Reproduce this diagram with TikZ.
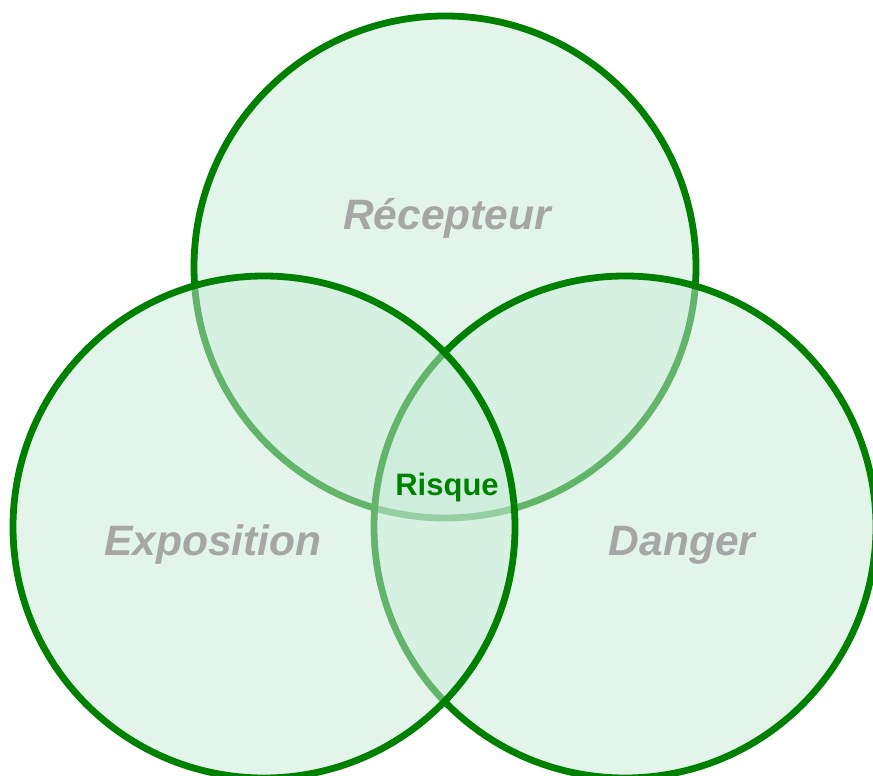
\documentclass[tikz,border=0pt]{standalone}
\usepackage{fontspec}
\setmainfont{Liberation Sans}
\usetikzlibrary{shapes,positioning}
\definecolor{venngreen}{RGB}{0,128,0}
\definecolor{vennfill}{RGB}{200,235,216}
\definecolor{termgray}{RGB}{166,166,166}
\tikzstyle{zone} = [draw = venngreen, line width=6.8pt, fill = vennfill, fill opacity=0.5, circle, minimum size=502pt, inner sep=0pt, outer sep=0pt]
\tikzstyle{term} = [text = termgray, font=\fontsize{42.5}{50}\selectfont\bfseries\itshape, anchor=base]
\tikzstyle{core} = [text = venngreen, font=\fontsize{31}{37}\selectfont\bfseries, anchor=base]

\begin{document}
\begin{tikzpicture}[x=1pt, y=1pt]
	\useasboundingbox (0,0) rectangle (873,776);
	% Circles (top first, then right, then left) %
	\node [zone] (rec) at (445,509) {};
	\node [zone] (dan) at (625,249) {};
	\node [zone] (exp) at (264,249) {};
	% Labels %
	\node [term, xshift=2pt, yshift=37pt] (lrec) at (rec.center) {Récepteur};
	\node [term, xshift=-51pt, yshift=-29pt] (lexp) at (exp.center) {Exposition};
	\node [term, xshift=57pt, yshift=-29pt] (ldan) at (dan.center) {Danger};
	\node [core] (risk) at (447,280) {Risque};
\end{tikzpicture}
\end{document}
